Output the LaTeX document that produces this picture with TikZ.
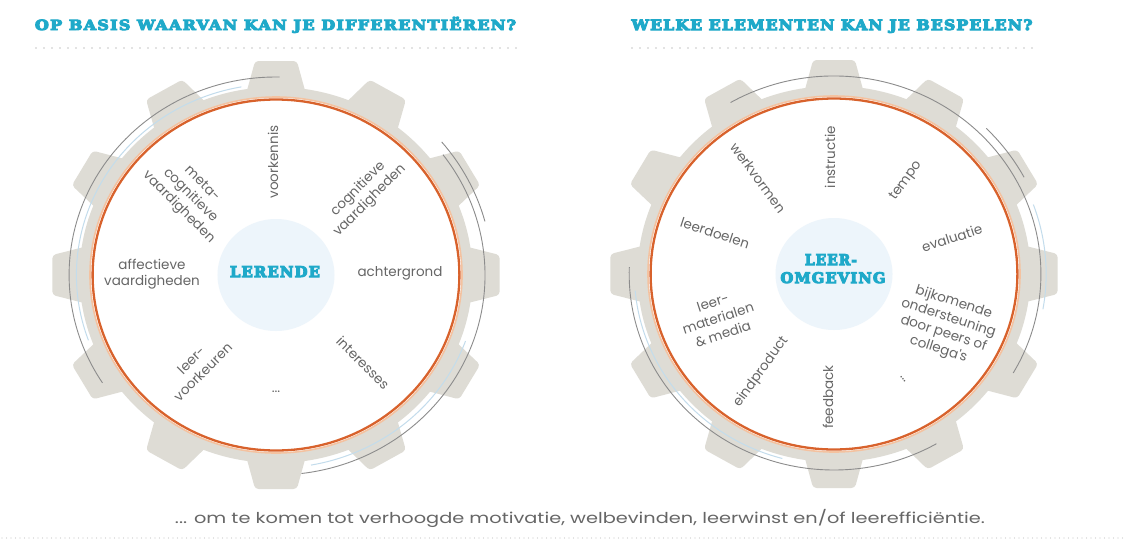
\documentclass[tikz,border=0pt]{standalone}
\usepackage{fontspec}
\newfontfamily\labfont{Poppins}
\newfontfamily\ttlfont{DejaVu Serif}[LetterSpace=8]
\newcommand\heavytext[1]{\special{pdf:literal 2 Tr 0.7 w}#1\special{pdf:literal 0 Tr 0.4 w}}
\definecolor{teal1}{HTML}{1FA9C9}
\definecolor{gearcol}{HTML}{DEDCD5}
\definecolor{orng}{HTML}{D8622C}
\definecolor{orngl}{HTML}{F4C2A0}
\definecolor{arcgray}{HTML}{8C8C8C}
\definecolor{arcblue}{HTML}{C3DCEC}
\definecolor{hubblue}{HTML}{EDF5FB}
\definecolor{labgray}{HTML}{666666}
\definecolor{dotgray}{HTML}{C8C8C8}
\tikzset{
  lab/.style={font=\labfont\fontsize{13.5}{16.5}\selectfont, text=labgray, align=center, inner sep=0pt},
  ttl/.style={font=\ttlfont\bfseries, text=teal1, inner sep=0pt, anchor=base},
  hub/.style={font=\ttlfont\bfseries, text=teal1, inner sep=0pt, anchor=base},
  botline/.style={font=\labfont\fontsize{15}{18}\selectfont, text=labgray, inner sep=0pt},
  dotline/.style={dotgray, line width=1.8pt, line cap=round, dash pattern=on 0pt off 8pt},
  dotline2/.style={dotgray, line width=1.3pt, line cap=round, dash pattern=on 0pt off 4.5pt},
  arcline/.style={arcgray, line width=0.9pt},
  arcbl/.style={arcblue, line width=1pt},
  gear/.pic={
    \begin{scope}[xscale=1.045]
      \fill[gearcol] (0,0) circle[radius=188];
      \foreach \a in {0,30,...,330}{
        \fill[gearcol, rounded corners=3.5pt, rotate=\a] (176,-30) -- (214,-20) -- (214,20) -- (176,30) -- cycle;
      }
      \fill[white] (0,0) circle[radius=177.5];
      \draw[orngl, line width=1.6pt] (0,0) circle[radius=178];
      \draw[orng, line width=2.3pt] (0,0) circle[radius=175.5];
      \fill[hubblue] (0,0) circle[radius=56];
    \end{scope}
  }
}
\begin{document}
\begin{tikzpicture}[x=1pt,y=-1pt]
\useasboundingbox (0,0) rectangle (1126,541);
\fill[white] (0,0) rectangle (1126,541);

% titles
\node[ttl] (t1) at (275.5,30) {\resizebox{481pt}{13.2pt}{\heavytext{OP BASIS WAARVAN KAN JE DIFFERENTIËREN?}}};
\node[ttl] (t2) at (832,30) {\resizebox{401pt}{10.6pt}{\heavytext{WELKE ELEMENTEN KAN JE BESPELEN?}}};
\coordinate (d1a) at (36,48); \coordinate (d1b) at (516,48);
\coordinate (d2a) at (632,48); \coordinate (d2b) at (1034,48);
\draw[dotline] (d1a) -- (d1b);
\draw[dotline] (d2a) -- (d2b);

% gears
\pic at (276,275) {gear};
\pic at (834,274) {gear};

% left gear arcs
\begin{scope}[shift={(276,275)}, xscale=1.045]
  \draw[arcbl] (-100:191) arc[start angle=-100, end angle=-200, radius=191];
  \draw[arcbl] (80:193) arc[start angle=80, end angle=20, radius=193];
  \draw[arcline] (-89:198) arc[start angle=-89, end angle=-213, radius=198];
  \draw[arcline] (83:200) arc[start angle=83, end angle=-37, radius=200];
  \draw[arcline] (-15:207) arc[start angle=-15, end angle=-40, radius=207];
\end{scope}

% right gear arcs
\begin{scope}[shift={(834,274)}, xscale=1.045]
  \draw[arcbl] (-185:191) arc[start angle=-185, end angle=-255, radius=191];
  \draw[arcbl] (10:203) arc[start angle=10, end angle=-20, radius=203];
  \draw[arcline] (-120:198) arc[start angle=-120, end angle=30, radius=198];
  \draw[arcline] (-178:196) arc[start angle=-178, end angle=-300, radius=196];
  \draw[arcline] (-28:206) arc[start angle=-28, end angle=-45, radius=206];
\end{scope}

% hub labels
\node[hub] (lerende) at (275,277) {\resizebox{90pt}{10.8pt}{\heavytext{LERENDE}}};
\node[hub] (leer) at (831,265) {\resizebox{52pt}{10.8pt}{\heavytext{LEER-}}};
\node[hub] (omg) at (833,283) {\resizebox{105pt}{10.8pt}{\heavytext{OMGEVING}}};

% left gear labels
\node[lab, rotate=90] (voork) at (273,162) {voorkennis};
\node[lab, rotate=45] (cogn) at (364,195) {cognitieve\\vaardigheden};
\node[lab] (achter) at (400,273) {achtergrond};
\node[lab, rotate=-45] (inter) at (363,363) {interesses};
\node[lab] (dotsl) at (276,392) {...};
\node[lab, rotate=45] (voorkeur) at (197,366) {leer-\\voorkeuren};
\node[lab] (affect) at (152,274) {affectieve\\vaardigheden};
\node[lab, rotate=-45] (meta) at (190,196) {meta-\\cognitieve\\vaardigheden};

% right gear labels
\node[lab, rotate=90] (instr) at (830,157) {instructie};
\node[lab, rotate=54] (tempo) at (906,181) {tempo};
\node[lab, rotate=18] (eval) at (952,238) {evaluatie};
\node[lab, rotate=-18] (bijk) at (946,326) {bijkomende\\ondersteuning\\door peers of\\collega's};
\node[lab, rotate=-54] (dotsr) at (903,379) {...};
\node[lab, rotate=90] (feedb) at (828,397) {feedback};
\node[lab, rotate=54] (eind) at (761,372) {eindproduct};
\node[lab, rotate=18] (mat) at (718,318) {leer-\\materialen\\\& media};
\node[lab, rotate=-18] (doel) at (715,233) {leerdoelen};
\node[lab, rotate=-54] (werk) at (758,178) {werkvormen};

% bottom
\node[botline] (bot) at (580,518) {\resizebox{810pt}{\height}{... om te komen tot verhoogde motivatie, welbevinden, leerwinst en/of leerefficiëntie.}};
\coordinate (bl) at (2,538); \coordinate (br) at (1124,538);
\draw[dotline2] (bl) -- (br);
\end{tikzpicture}
\end{document}
